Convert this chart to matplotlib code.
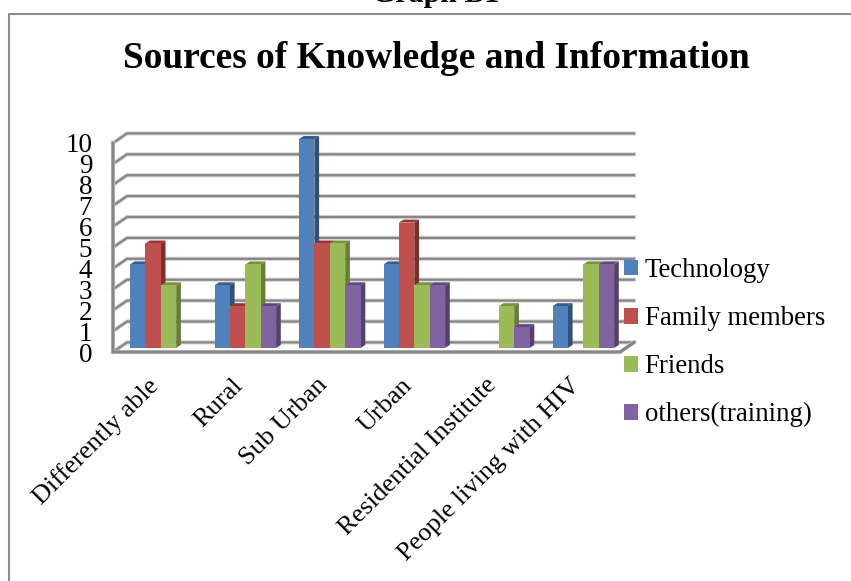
import matplotlib
matplotlib.use("Agg")
import matplotlib.pyplot as plt
import matplotlib.patheffects as pe
from matplotlib.lines import Line2D

categories = ["Differently able", "Rural", "Sub Urban", "Urban",
              "Residential Institute", "People living with HIV"]
technology = [4, 3, 10, 4, 0, 2]
family_members = [5, 2, 5, 6, 0, 0]
friends = [3, 4, 5, 3, 2, 4]
others = [0, 2, 3, 3, 1, 4]

series = [
    ("Technology", technology, "#4F81BD", "#385D8A", "#2F5078"),
    ("Family members", family_members, "#C0504D", "#953735", "#7F2E2C"),
    ("Friends", friends, "#9BBB59", "#76923C", "#677D3B"),
    ("others(training)", others, "#8064A2", "#5F497A", "#54426C"),
]
y_ticks = list(range(11))

plt.rcParams["font.family"] = ["Liberation Serif", "DejaVu Serif"]
W, H = 851, 581
fig = plt.figure(figsize=(W / 100, H / 100), dpi=100)
fig.patch.set_facecolor("white")


def px_box(left, top, right, bottom):
    return [left / W, 1 - bottom / H, (right - left) / W, (bottom - top) / H]


# front plane of the fake 3d box
ax = fig.add_axes(px_box(113, 143, 620, 352))
ax.set_xlim(0, len(categories))
ax.set_ylim(0, 10)
for s in ax.spines.values():
    s.set_visible(False)

grid_col = "#868686"
wall_dx, wall_dy = 14 / 84.5, 9.6 / 20.9
shadow = [pe.withStroke(linewidth=3, foreground="#d4d4d4")]
n = len(categories)

for v in y_ticks:
    ax.plot([0, wall_dx, n + wall_dx], [v, v + wall_dy, v + wall_dy],
            color=grid_col, lw=1.6, clip_on=False, zorder=1,
            path_effects=shadow, solid_joinstyle="miter")
ax.plot([0, 0, n, n + wall_dx], [10, 0, 0, wall_dy], color=grid_col, lw=2.2,
        clip_on=False, zorder=1, path_effects=shadow, solid_joinstyle="miter")

bar_w = 15.4 / 84.5
start = 17 / 84.5  # left edge of first bar inside its category
base = 4 / 20.9
dep_x, dep_y = 4.7 / 84.5, 3 / 20.9

handles = []
for k, (name, vals, col, top_col, side_col) in enumerate(series):
    xs = [i + start + k * bar_w for i in range(n)]
    for x, v in zip(xs, vals):
        if v == 0:
            continue
        y1 = v + base
        ax.fill([x + bar_w, x + bar_w + dep_x, x + bar_w + dep_x, x + bar_w],
                [base, base + dep_y, y1 + dep_y, y1],
                color=side_col, lw=0, zorder=3 + k, clip_on=False)
        ax.fill([x, x + dep_x, x + bar_w + dep_x, x + bar_w],
                [y1, y1 + dep_y, y1 + dep_y, y1],
                color=top_col, lw=0, zorder=3 + k, clip_on=False)
    bars = ax.bar(xs, vals, width=bar_w, bottom=base, align="edge", color=col,
                  lw=0, zorder=3 + k, label=name, clip_on=False)
    handles.append(bars)

ax.set_yticks(y_ticks)
ax.set_yticklabels([str(v) for v in y_ticks], fontsize=19.5, color="black",
                   va="center_baseline")
ax.tick_params(axis="y", length=0, pad=15)
# labels sit a little left of the category centre, as in the original
ax.set_xticks([i + 0.405 for i in range(n)])
ax.set_xticklabels(categories, fontsize=19, rotation=45, ha="right",
                   va="top", rotation_mode="anchor")
ax.tick_params(axis="x", length=0, pad=16)

fig.legend(handles=handles, loc="upper left",
           bbox_to_anchor=(624 / W, 1 - 258 / H), frameon=False, fontsize=19.3,
           handlelength=0.54, handleheight=0.54, handletextpad=0.23,
           labelspacing=0.86, borderpad=0, borderaxespad=0)

fig.text(436 / W, 1 - 59 / H, "Sources of Knowledge and Information",
         ha="center", va="center", fontsize=26.9, fontweight="bold")
fig.text(436 / W, 1 - 2 / H, "Graph B1", ha="center", va="baseline",
         fontsize=21.5, fontweight="bold")

# page frame, open on the right and at the bottom
fig.add_artist(Line2D([9 / W, 9 / W, 1], [0, 1 - 13.5 / H, 1 - 13.5 / H],
                      color="#8c8c8c", lw=1.5))

fig.savefig("out.png", dpi=100)
